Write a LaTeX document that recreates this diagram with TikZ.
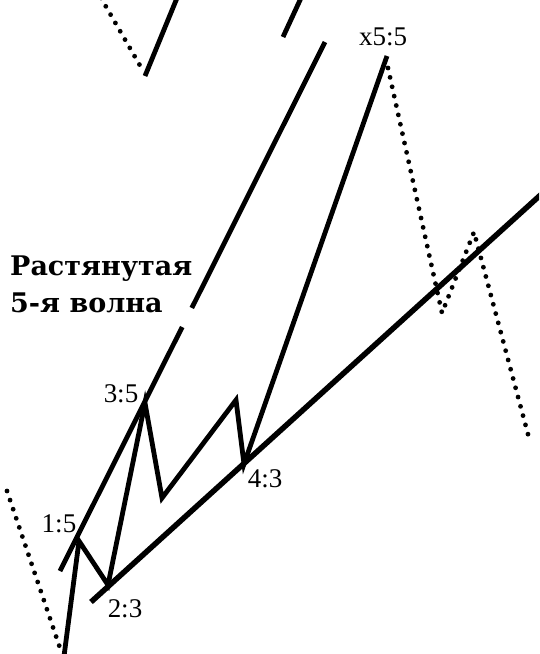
\documentclass[tikz,border=0pt]{standalone}
\usepackage{fontspec}
\setmainfont{Liberation Serif}
\newfontfamily\titlefont{DejaVu Serif}
\begin{document}
\begin{tikzpicture}[x=1pt,y=-1pt,
  wave/.style={line width=4.8pt},
  trend/.style={line width=5.5pt},
  dots/.style={line width=4.8pt, line cap=round, dash pattern=on 0pt off 9.6pt},
  lbl/.style={font=\fontsize{27}{27}\selectfont, inner sep=0pt},
  ttl/.style={font=\titlefont\bfseries\fontsize{27}{37}\selectfont, inner sep=0pt, anchor=base west}]
\useasboundingbox (0,0) rectangle (539,654);
\clip (0,0) rectangle (539,654);
% wave points
\coordinate (w0) at (63,664);
\coordinate (w1) at (79,541);
\coordinate (w2) at (108,585);
\coordinate (w3) at (145,403);
\coordinate (wa) at (162,498);
\coordinate (wb) at (236,400);
\coordinate (w4) at (244,464);
\coordinate (w5) at (387,56);
% after wave 5 (dotted)
\coordinate (d0) at (388,68);
\coordinate (d1) at (442,313);
\coordinate (d2) at (474,232);
\coordinate (d3) at (529,438);
% trend line
\coordinate (t0) at (91,602);
\coordinate (t1) at (546,190);
% upper channel line
\coordinate (u0) at (60,571);
\coordinate (u1) at (182.2,327);
\coordinate (u2) at (191.8,308);
\coordinate (u3) at (325,42);
% top-left fragments
\coordinate (p0) at (101,-2);
\coordinate (p1) at (142,69);
\coordinate (p2) at (145,76);
\coordinate (p3) at (177,-2);
\coordinate (q0) at (301,-2);
\coordinate (q1) at (283,37);
% bottom-left dotted
\coordinate (s0) at (7,491);
\coordinate (s1) at (60,648);

\draw[wave, line join=miter] (w0) -- (w1) -- (w2) -- (w3) -- (wa) -- (wb) -- (w4) -- (w5);
\draw[dots] (d0) -- (d1) -- (d2) -- (d3);
\draw[trend] (t0) -- (t1);
\draw[wave] (u0) -- (u1);
\draw[wave] (u2) -- (u3);
\draw[dots] (p0) -- (p1);
\draw[wave] (p2) -- (p3);
\draw[wave] (q0) -- (q1);
\draw[dots] (s0) -- (s1);

\node[lbl] (l5) at (383,37) {x5:5};
\node[lbl] (l3) at (121,394) {3:5};
\node[lbl] (l1) at (59,524) {1:5};
\node[lbl] (l2) at (125,609) {2:3};
\node[lbl] (l4) at (265,479) {4:3};
\node[ttl] (ta) at (10,275) {Растянутая};
\node[ttl] (tb) at (10,312) {5-я волна};
\end{tikzpicture}
\end{document}
